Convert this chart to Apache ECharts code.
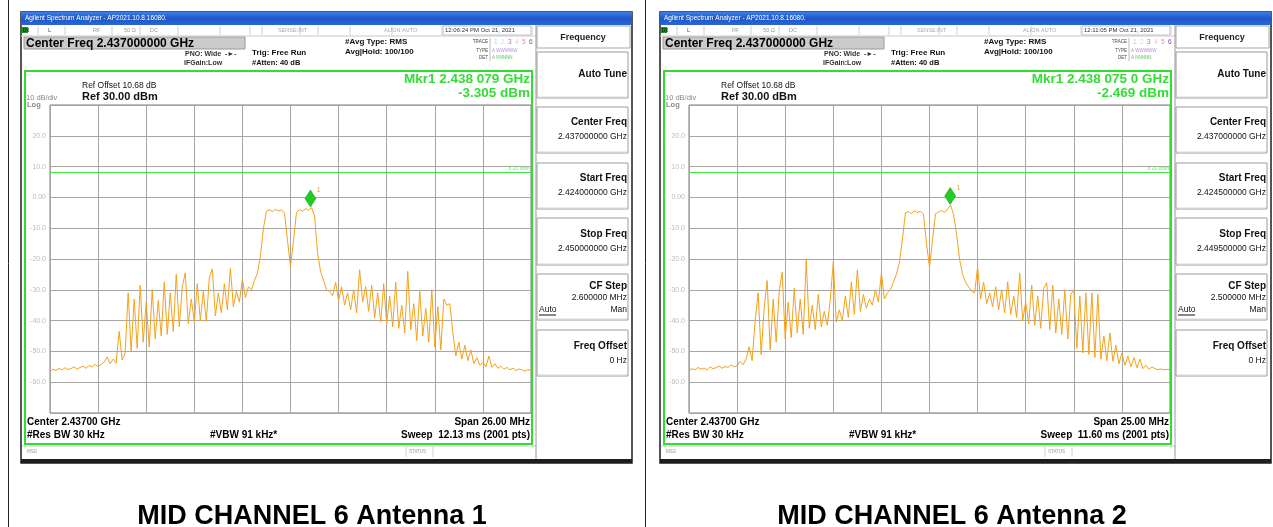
<!DOCTYPE html>
<html><head><meta charset="utf-8">
<script src="https://cdn.jsdelivr.net/npm/echarts@6/dist/echarts.min.js"></script>
<style>html,body{margin:0;padding:0;background:#fff}#c{width:1273px;height:527px}</style>
</head><body><div id="c"></div><script>
// ---- data read from the two analyzer screens (dBm, 161 evenly spaced sweep samples) ----
const trace1 = [
-56.5,-55.8,-56.2,-55.5,-56,-55.3,-55.9,-55.6,-55,-55.8,-55.2,-54.8,-55.5,-54.6,-55.1,-54.2,-54.9,
-54.2,-53.5,-51.8,-54,-52.5,-53.8,-43.5,-52.8,-50.5,
-31,-50,-33,-49,-28.5,-47,-34,-48.5,-30,-46,
-33.5,-45,-27.5,-44.5,-31,-43.5,-25,-42,-29,-24.5,
-41,-33,-40.5,-28,-40,-30.5,-40.3,-26,-23.2,-38.5,
-31,-37.5,-28,-36.5,-23,-35.5,-30.5,-34,-26.5,-32.5,
-29,-30,-27,-24.5,
-19,-10,-4.5,-4.0,-4.6,-3.9,-4.4,-4.1,-5.0,-14,
-22.5,-14,-4.8,-4.0,-4.5,-3.6,-4.2,-3.3,-6,-18,
-24,-27,-30,-30.5,-32,-27.5,-33.5,-29,-35,-31,
-36.5,-30,-37.5,-23.5,-34,-29,-37,-28.5,-39,-31,
-40.5,-28,-41,-32,-42,-27.5,-42.5,-35,-44,-24,
-43,-34.5,-46.5,-30.5,-45,-36,-47,-30,-48.5,-35.5,
-49.5,-33,-35,-34.5,-44,-51.5,-47,-52.5,-48,-53,
-49.5,-54,-52,-54.5,-53.5,-55,-51.5,-55.2,-54,-55.5,
-54.8,-55.8,-55.2,-56,-55.4,-56.2,-55.7,-56,-56.4,-55.9,
-56.3];
const trace2 = [
-56.3,-55.6,-56,-55.2,-55.8,-55.4,-56,-55,-55.6,-55.3,-54.8,-55.5,-54.9,-55.2,-54.4,-55,
-54.6,-53.2,-54.3,-52.5,
-48.5,-53,-40,-31,-51,-36,-27,-49.5,-33,-47,
-30.5,-24.2,-46,-34,-45.5,-29.5,-44,-33,-44.5,-20.3,
-42.5,-35,-43,-31.5,-42,-37,-41.5,-33,-21,-40.5,
-36.5,-40,-32,-39,-27.4,-38,-23.5,-37,-31.5,-36,
-33,-35,-30,-34,-24.5,-33,-31,-30,-27.5,-25,
-21,-13.5,-5.0,-4.6,-5.2,-4.3,-4.9,-4.5,-5.4,-15,
-22.6,-14,-5.3,-4.8,-4.2,-4.9,-3.8,-2.5,-5.5,-12,
-20,-25,-27.5,-29,-30.5,-31,-22.6,-33,-27.5,-34.5,
-31,-35.5,-29,-36.5,-30,-37.5,-27.4,-38,-32,-39,
-24.5,-40,-34,-41,-28.5,-41.5,-32,-42.5,-29.5,-27.7,
-43,-28.5,-44,-33,-44.5,-30,-46,-31.5,-30,-49,
-32,-50.5,-31,-51,-31,-52,-31.5,-52.5,-45,-53,
-44,-53.2,-48,-54,-50.5,-54.5,-51.5,-55,-52,-55.3,
-52.5,-55.6,-54.5,-55.8,-55,-55.6,-55.9,-55.7,-56,-55.8,
-56];
const spanMHz = [26, 25];
const mkrOffsetMHz = [1.079, 1.075];
const mkrLevel = [-3.305, -2.469];
const displayLine = [8.2, 8.2];
const yTickValues = [20, 10, 0, -10, -20, -30, -40, -50, -60];
const yTickText = ['20.0', '10.0', '0.00', '-10.0', '-20.0', '-30.0', '-40.0', '-50.0', '-60.0'];
const mkrFreqText = ['Mkr1 2.438 079 GHz', 'Mkr1 2.438 075 0 GHz'];
const timestamps = ['12:06:24 PM Oct 21, 2021', '12:11:05 PM Oct 21, 2021'];
const startFreqText = ['2.424000000 GHz', '2.424500000 GHz'];
const stopFreqText = ['2.450000000 GHz', '2.449500000 GHz'];
const cfStepText = ['2.600000 MHz', '2.500000 MHz'];
const spanText = ['Span 26.00 MHz', 'Span 25.00 MHz'];
const sweepText = ['Sweep  12.13 ms (2001 pts)', 'Sweep  11.60 ms (2001 pts)'];
const captions = ['MID CHANNEL 6 Antenna 1', 'MID CHANNEL 6 Antenna 2'];

// ---- rendering ----
const FF = '"Liberation Sans", Arial, sans-serif';
const chart = echarts.init(document.getElementById('c'), null, {renderer: 'canvas'});
const shifts = [0, 639];
const traces = [trace1, trace2];

function T(x, y, text, font, fill, align, va) {
  return {type: 'text', silent: true, z: 10, style: {x, y, text, font, fill: fill || '#000',
    textAlign: align || 'left', align: align || 'left',
    textVerticalAlign: va || 'middle', verticalAlign: va || 'middle'}};
}
function R(x, y, w, h, fill, stroke, lw) {
  return {type: 'rect', silent: true, z: 5, shape: {x, y, width: w, height: h},
    style: {fill: fill || 'none', stroke: stroke || 'none', lineWidth: lw || 1}};
}
function L(x1, y1, x2, y2, stroke, lw) {
  return {type: 'line', silent: true, z: 6, shape: {x1, y1, x2, y2}, style: {stroke, lineWidth: lw || 1}};
}

function chrome(k) {
  const o = shifts[k];
  const g = [];
  // outer frame of screenshot
  g.push(R(21 + o, 12, 611, 451, 'none', '#1e1e1e', 1.5));
  g.push(R(21 + o, 459, 611, 4, '#1e1e1e', 'none'));
  // title bar
  g.push({type: 'rect', silent: true, z: 5, shape: {x: 21 + o, y: 12, width: 611, height: 13},
    style: {fill: new echarts.graphic.LinearGradient(0, 0, 0, 1, [
      {offset: 0, color: '#3f7fe6'}, {offset: 0.5, color: '#1f56c8'}, {offset: 1, color: '#2a66d6'}])}});
  g.push(T(25 + o, 18.5, 'Agilent Spectrum Analyzer - AP2021.10.8.16080.', '6.5px ' + FF, '#ffffff'));
  // status row
  g.push(L(21 + o, 36, 537 + o, 36, '#c8c8c8', 1));
  g.push(R(22 + o, 27, 6, 6, '#1c9a1c', 'none'));
  g.push(T(23 + o, 30.5, 'DX', 'bold 4.5px ' + FF, '#003300'));
  [38, 65, 112, 140, 178, 220, 250, 262, 300, 318, 350, 392, 442, 532].forEach(x => g.push(L(x + o, 26, x + o, 35, '#d0d0d0', 1)));
  g.push(T(48 + o, 30.5, 'L', '6px ' + FF, '#555'));
  g.push(T(93 + o, 30.5, 'RF', '5.5px ' + FF, '#999'));
  g.push(T(124 + o, 30.5, '50 Ω', '5.5px ' + FF, '#999'));
  g.push(T(150 + o, 30.5, 'DC', '5.5px ' + FF, '#999'));
  g.push(T(278 + o, 30.5, 'SENSE:INT', '5.5px ' + FF, '#aaa'));
  g.push(T(384 + o, 30.5, 'ALIGN AUTO', '5.5px ' + FF, '#aaa'));
  g.push(R(443 + o, 26, 88, 9, 'none', '#c0c0c0', 1));
  g.push(T(445 + o, 30.5, timestamps[k], '6px ' + FF, '#333'));
  // center freq box
  g.push(R(24 + o, 37, 221, 12, '#cbcbcb', '#9a9a9a', 1));
  g.push(T(26 + o, 43.5, 'Center Freq 2.437000000 GHz', 'bold 12px ' + FF, '#000'));
  g.push(T(185 + o, 54, 'PNO: Wide  -►-', 'bold 7px ' + FF, '#333'));
  g.push(T(184 + o, 63, 'IFGain:Low', 'bold 7px ' + FF, '#333'));
  g.push(T(252 + o, 53, 'Trig: Free Run', 'bold 8px ' + FF, '#111'));
  g.push(T(252 + o, 62.5, '#Atten: 40 dB', 'bold 7.5px ' + FF, '#111'));
  g.push(T(345 + o, 42, '#Avg Type: RMS', 'bold 8px ' + FF, '#111'));
  g.push(T(345 + o, 52, 'Avg|Hold: 100/100', 'bold 8px ' + FF, '#111'));
  g.push(T(488 + o, 42, 'TRACE', '4.5px ' + FF, '#444', 'right'));
  g.push(T(488 + o, 50.5, 'TYPE', '4.5px ' + FF, '#444', 'right'));
  g.push(T(488 + o, 58, 'DET', '4.5px ' + FF, '#444', 'right'));
  g.push(L(490 + o, 38, 490 + o, 61, '#bbb', 1));
  const tc = ['#9fd0ff', '#b8e8ff', '#c060e0', '#f0c0e0', '#f080c0', '#9040c0'];
  ['1', '2', '3', '4', '5', '6'].forEach((d, i) => g.push(T(494 + i * 7 + o, 42, d, '6.5px ' + FF, tc[i])));
  g.push(T(492 + o, 50.5, 'A WWWWW', '4.5px ' + FF, '#b090d0'));
  g.push(T(492 + o, 58, 'A NNNNN', '4.5px ' + FF, '#60c060'));
  // green measurement frame
  g.push(R(25 + o, 71, 507, 373, 'none', '#2ee02e', 2));
  g.push(T(82 + o, 86, 'Ref Offset 10.68 dB', '8.5px ' + FF, '#111'));
  g.push(T(82 + o, 97, 'Ref 30.00 dBm', 'bold 11px ' + FF, '#111'));
  g.push(T(26 + o, 98, '10 dB/div', '7.5px ' + FF, '#8a8a8a'));
  g.push(T(27 + o, 105, 'Log', 'bold 7.5px ' + FF, '#8a8a8a'));
  g.push(T(530 + o, 79, mkrFreqText[k], 'bold 13.5px ' + FF, '#33dd33', 'right'));
  g.push(T(530 + o, 93, mkrLevel[k].toFixed(3) + ' dBm', 'bold 13.5px ' + FF, '#33dd33', 'right'));
  g.push(T(27 + o, 422.5, 'Center 2.43700 GHz', 'bold 10px ' + FF, '#000'));
  g.push(T(530 + o, 422.5, spanText[k], 'bold 10px ' + FF, '#000', 'right'));
  g.push(T(27 + o, 435.5, '#Res BW 30 kHz', 'bold 10px ' + FF, '#000'));
  g.push(T(210 + o, 435.5, '#VBW 91 kHz*', 'bold 10px ' + FF, '#000'));
  g.push(T(530 + o, 435.5, sweepText[k], 'bold 10px ' + FF, '#000', 'right'));
  // message / status bar
  g.push(L(22 + o, 446, 537 + o, 446, '#c8c8c8', 1));
  g.push(T(27 + o, 452, 'MSG', '4.5px ' + FF, '#999'));
  g.push(L(406 + o, 447, 406 + o, 457, '#d0d0d0', 1));
  g.push(L(433 + o, 447, 433 + o, 457, '#d0d0d0', 1));
  g.push(T(409 + o, 452, 'STATUS', '4.5px ' + FF, '#999'));
  // softkey panel
  g.push(L(536 + o, 25, 536 + o, 459, '#9a9a9a', 1));
  g.push(R(537 + o, 26, 93, 22, '#ffffff', '#a8a8a8', 1));
  g.push(T(583 + o, 38, 'Frequency', 'bold 9px ' + FF, '#222', 'center'));
  const boxes = [[52, 98], [107, 153], [163, 209], [218, 265], [274, 320], [330, 376]];
  boxes.forEach(b => {
    g.push(R(537 + o, b[0], 91, b[1] - b[0], '#ffffff', '#9c9c9c', 1));
    g.push(L(538 + o, b[1] - 1, 627 + o, b[1] - 1, '#d8d8d8', 1));
  });
  g.push(R(537 + o, 385, 91, 72, '#ffffff', 'none'));
  g.push(T(627 + o, 74, 'Auto Tune', 'bold 10px ' + FF, '#111', 'right'));
  g.push(T(627 + o, 122, 'Center Freq', 'bold 10px ' + FF, '#111', 'right'));
  g.push(T(627 + o, 136.5, '2.437000000 GHz', '8.5px ' + FF, '#111', 'right'));
  g.push(T(627 + o, 178, 'Start Freq', 'bold 10px ' + FF, '#111', 'right'));
  g.push(T(627 + o, 192.5, startFreqText[k], '8.5px ' + FF, '#111', 'right'));
  g.push(T(627 + o, 234, 'Stop Freq', 'bold 10px ' + FF, '#111', 'right'));
  g.push(T(627 + o, 248.5, stopFreqText[k], '8.5px ' + FF, '#111', 'right'));
  g.push(T(627 + o, 286, 'CF Step', 'bold 10px ' + FF, '#111', 'right'));
  g.push(T(627 + o, 298, cfStepText[k], '8.5px ' + FF, '#111', 'right'));
  g.push(T(539 + o, 310, 'Auto', '8.5px ' + FF, '#111'));
  g.push(L(539 + o, 315, 556 + o, 315, '#111', 1));
  g.push(T(627 + o, 310, 'Man', '8.5px ' + FF, '#111', 'right'));
  g.push(T(627 + o, 346, 'Freq Offset', 'bold 10px ' + FF, '#111', 'right'));
  g.push(T(627 + o, 361, '0 Hz', '8.5px ' + FF, '#111', 'right'));
  return g;
}

let graphics = [];
graphics.push(L(8.5, 0, 8.5, 527, '#222', 1));
graphics.push(L(645.5, 0, 645.5, 527, '#222', 1));
graphics = graphics.concat(chrome(0), chrome(1));
graphics.push(T(312, 517, captions[0], 'bold 27px ' + FF, '#000', 'center'));
graphics.push(T(952, 517, captions[1], 'bold 27px ' + FF, '#000', 'center'));

const grids = [], xAxes = [], yAxes = [], series = [];
[0, 1].forEach(k => {
  const half = spanMHz[k] / 2;
  const tr = traces[k];
  grids.push({left: 50 + shifts[k], top: 105, width: 481, height: 308, show: true,
    borderColor: '#7a7a7a', borderWidth: 1, backgroundColor: 'rgba(0,0,0,0)'});
  xAxes.push({type: 'value', gridIndex: k, min: -half, max: half, interval: spanMHz[k] / 10,
    axisLabel: {show: false}, axisTick: {show: false}, axisLine: {show: false},
    splitLine: {show: true, lineStyle: {color: '#a6a6a6', width: 1}}});
  yAxes.push({type: 'value', gridIndex: k, min: -70, max: 30, interval: 10,
    axisTick: {show: false}, axisLine: {show: false},
    splitLine: {show: true, lineStyle: {color: '#a6a6a6', width: 1}},
    axisLabel: {show: true, margin: 4, fontSize: 7, color: '#bcbcbc', fontFamily: FF,
      formatter: v => { const i = yTickValues.indexOf(v); return i >= 0 ? yTickText[i] : ''; }}});
  series.push({type: 'line', xAxisIndex: k, yAxisIndex: k, showSymbol: false, animation: false,
    data: tr.map((v, i) => [-half + i * spanMHz[k] / (tr.length - 1), v]),
    lineStyle: {color: '#f5a21b', width: 1}, z: 3,
    markLine: {silent: true, symbol: 'none', animation: false,
      lineStyle: {color: '#3ee83e', width: 1, type: 'solid'},
      label: {show: true, position: 'insideEndTop', formatter: displayLine[k].toFixed(2) + ' dBm',
        fontSize: 5, color: '#6ee86e', fontFamily: FF, distance: 1},
      data: [{yAxis: displayLine[k]}]},
    markPoint: {silent: true, animation: false, symbol: 'diamond', symbolSize: [11, 17], symbolOffset: [0, -9],
      itemStyle: {color: '#22cc22', borderColor: '#159915', borderWidth: 0.5},
      label: {show: true, formatter: '1', position: [12, -3], fontSize: 7, color: '#f0a000', fontFamily: FF},
      data: [{coord: [mkrOffsetMHz[k], mkrLevel[k]]}]}});
});

chart.setOption({
  animation: false,
  backgroundColor: '#ffffff',
  grid: grids, xAxis: xAxes, yAxis: yAxes, series: series,
  graphic: {elements: graphics}
});
</script></body></html>
